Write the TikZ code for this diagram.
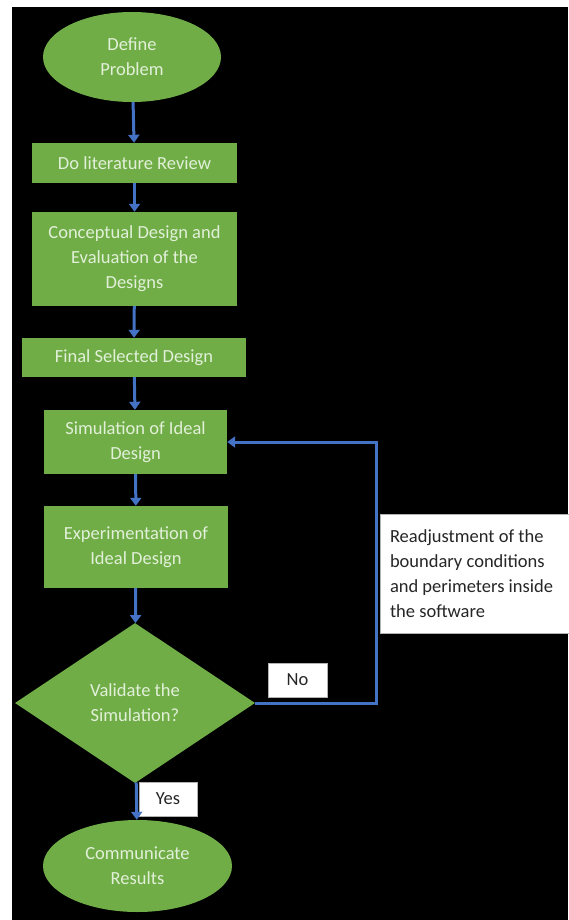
\documentclass[tikz,border=0pt]{standalone}
\usepackage{fontspec}
\setmainfont{Carlito}
\usetikzlibrary{shapes,arrows.meta,positioning,calc}
\definecolor{boxgreen}{HTML}{70AD47}
\definecolor{arrowblue}{HTML}{4472C4}
\definecolor{paletext}{HTML}{E2F0D9}
\tikzset{
  greenbox/.style={rectangle, fill=boxgreen, text=paletext, align=center, inner sep=0pt},
  greenoval/.style={ellipse, fill=boxgreen, text=paletext, align=center, inner sep=0pt},
  decision/.style={diamond, fill=boxgreen, text=paletext, align=center, inner sep=0pt, aspect=1.5},
  notebox/.style={rectangle, fill=white, draw=gray!60, line width=0.8pt, text=black!85, inner sep=0pt},
  flow/.style={draw=arrowblue, line width=3pt, -{Triangle[width=11pt,length=8pt]}}
}
\begin{document}
\begin{tikzpicture}[x=1pt, y=-1pt, font=\fontsize{18.5}{25}\selectfont]
    \useasboundingbox (0,0) rectangle (568,920);
    \fill[white] (0,0) rectangle (568,920);
    \fill[black] (12,7) rectangle (568,920);
    % main column
    \node[greenoval, minimum width=178pt, minimum height=90pt] (define) at (132,57) {Define\\Problem};
    \node[greenbox, minimum width=205pt, minimum height=40pt] (review) at (134.5,163) {Do literature Review};
    \node[greenbox, minimum width=205pt, minimum height=94pt] (concept) at (134.5,259) {Conceptual Design and\\Evaluation of the\\Designs};
    \node[greenbox, minimum width=224pt, minimum height=39pt] (final) at (134,357.5) {Final Selected Design};
    \node[greenbox, minimum width=183pt, minimum height=64pt] (sim) at (135.5,442) {Simulation of Ideal\\Design};
    \node[greenbox, minimum width=184pt, minimum height=82pt] (exper) at (136,547) {Experimentation of\\Ideal Design};
    \node[decision, minimum width=240pt, minimum height=160pt] (valid) at (135,703) {Validate the\\Simulation?};
    \node[greenoval, minimum width=189pt, minimum height=92pt] (comm) at (137.5,866) {Communicate\\Results};
    % labels
    \node[notebox, minimum width=58pt, minimum height=34pt] (yes) at (168,799) {Yes};
    \node[notebox, minimum width=59pt, minimum height=34pt] (no) at (297.5,680) {No};
    \coordinate (loop) at (376,442);
    \draw[flow] (define) -- (review);
    \draw[flow] (review) -- (concept);
    \draw[flow] (concept) -- (final);
    \draw[flow] (final) -- (sim);
    \draw[flow] (sim) -- (exper);
    \draw[flow] (exper) -- (valid);
    \draw[flow] (valid) -- (comm);
    \draw[flow] (valid.east) -| (loop) -- (sim.east);
    \node[notebox, minimum width=190pt, minimum height=119pt, text width=170pt, align=flush left] (readjust) at (475,573.5)
      {Readjustment of the\\boundary conditions\\and perimeters inside\\the software};
\end{tikzpicture}
\end{document}
